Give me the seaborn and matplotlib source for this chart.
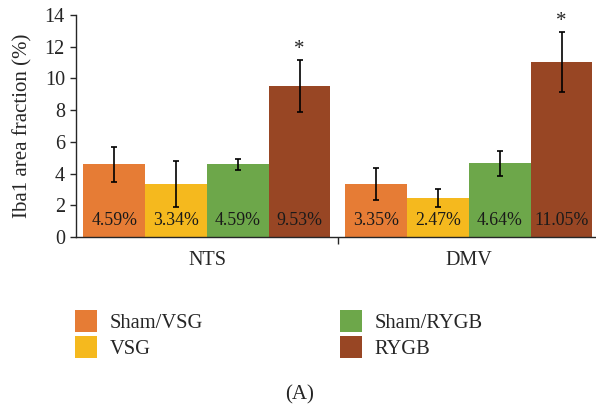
import numpy as np
import pandas as pd
import matplotlib
matplotlib.use("Agg")
import matplotlib.pyplot as plt
import seaborn as sns

# data
regions = ["NTS", "DMV"]
groups = ["Sham/VSG", "VSG", "Sham/RYGB", "RYGB"]
nts_vals = [4.59, 3.34, 4.59, 9.53]
dmv_vals = [3.35, 2.47, 4.64, 11.05]
nts_err = [1.1, 1.43, 0.36, 1.65]
dmv_err = [1.0, 0.55, 0.8, 1.9]
colors = ["#E67C35", "#F5B91E", "#6DA74A", "#984624"]

df = pd.DataFrame({
    "region": np.repeat(regions, len(groups)),
    "group": groups * 2,
    "value": nts_vals + dmv_vals,
    "err": nts_err + dmv_err,
})

sns.set_style("ticks")
plt.rcParams["font.family"] = ["Liberation Serif", "DejaVu Serif"]

fig = plt.figure(figsize=(5.96, 4.09), dpi=100)
ax = fig.add_axes([76 / 596, 1 - 237 / 409, 520 / 596, 222 / 409])

sns.barplot(data=df, x="region", y="value", hue="group", hue_order=groups,
            palette=colors, width=0.943, saturation=1, errorbar=None,
            linewidth=0, ax=ax, legend=True)

# error bars + labels, bars come out hue by hue
bars = ax.patches[:8]
for i, g in enumerate(groups):
    for j, r in enumerate(regions):
        p = bars[i * 2 + j]
        row = df[(df.region == r) & (df.group == g)].iloc[0]
        cx = p.get_x() + p.get_width() / 2
        ax.errorbar(cx, row.value, yerr=row.err, fmt="none", ecolor="black",
                    elinewidth=1.2, capsize=2.5, capthick=1.2)
        ax.text(cx, 0.5, f"{row.value:.2f}%", ha="center", va="bottom",
                fontsize=12.8, color="#1a1a1a")
        if g == "RYGB":
            ax.text(cx, row.value + row.err + 0.05, "*", ha="center",
                    va="bottom", fontsize=15)

ax.set_xlim(-0.5, 1.485)
ax.set_ylim(0, 14)
ax.set_yticks(range(0, 15, 2))
ax.set_xlabel("")
ax.set_ylabel("Iba1 area fraction (%)", fontsize=15, labelpad=9)
ax.tick_params(axis="y", labelsize=14.5, length=4, width=1, pad=4)
ax.tick_params(axis="x", which="major", length=0, labelsize=14.5, pad=10)
ax.set_xticks([0.5], minor=True)
ax.tick_params(axis="x", which="minor", length=5, width=1)
sns.despine(ax=ax, top=True, right=True)
ax.spines["left"].set_linewidth(1)
ax.spines["bottom"].set_linewidth(1)

handles, labels = ax.get_legend_handles_labels()
ax.get_legend().remove()
fig.legend(handles, labels, ncol=2, loc="upper left",
           bbox_to_anchor=(75 / 596, 1 - 310 / 409), frameon=False,
           fontsize=14.8, handlelength=1.06, handleheight=1.25, borderpad=0,
           borderaxespad=0, columnspacing=6.65, labelspacing=0.15,
           handletextpad=0.63)

fig.text(300 / 596, 1 - 395 / 409, "(A)", ha="center", va="center", fontsize=15)

fig.savefig("out.png", dpi=100)
